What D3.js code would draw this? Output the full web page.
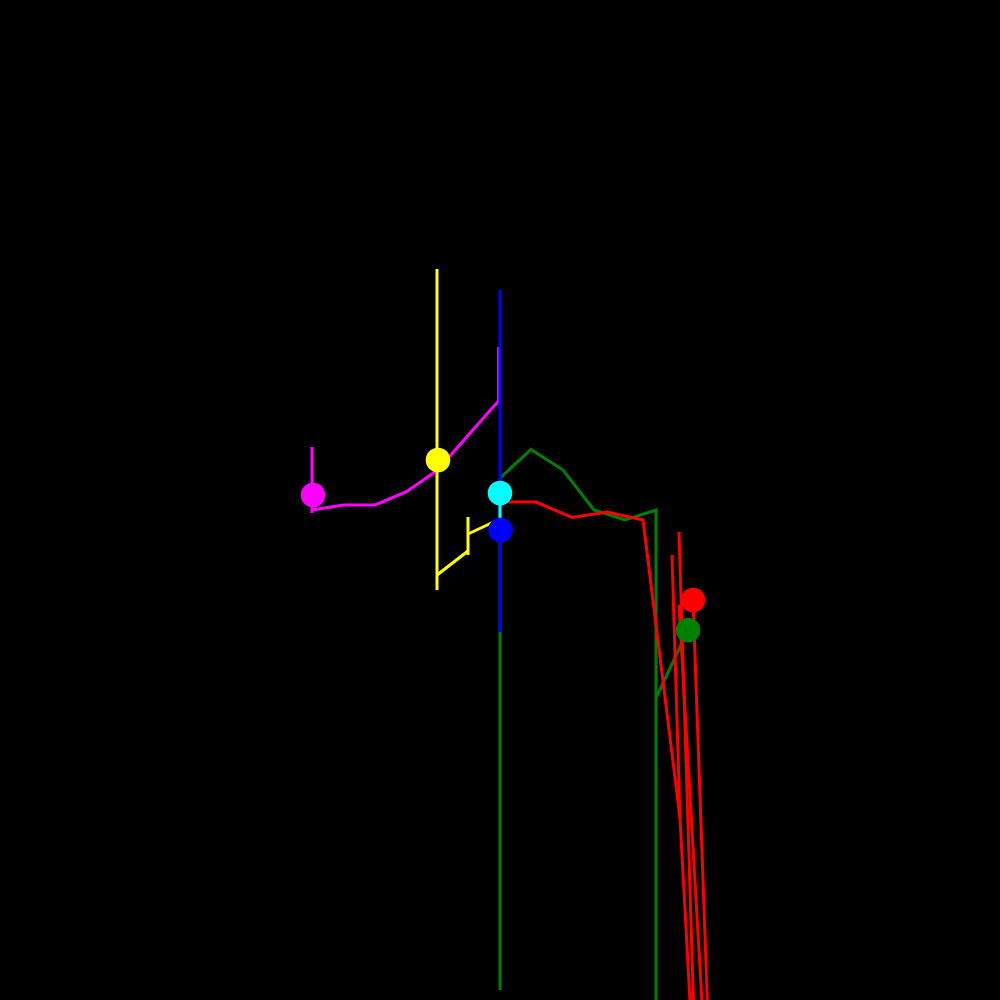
<!DOCTYPE html>
<html>
<head>
<meta charset="utf-8">
<script src="https://cdn.jsdelivr.net/npm/d3@7"></script>
<style>
  html, body { margin: 0; padding: 0; background: #000; }
  svg { display: block; }
</style>
</head>
<body>
<svg id="chart" width="1000" height="1000"></svg>
<script>
// ---- data (x, y in chart units) ----
const magentaPaths = [
  [[31.2, 55.3], [31.2, 48.7]],
  [[31.2, 49.0], [34.35, 49.5], [37.5, 49.5], [40.6, 50.8], [43.7, 52.95], [49.85, 59.9], [49.85, 65.3]]
];
const magentaDot = [31.3, 50.5];

const yellowPaths = [
  [[43.7, 73.1], [43.7, 41.0]],
  [[43.7, 42.5], [46.8, 44.9]],
  [[46.8, 48.3], [46.8, 44.5]],
  [[46.8, 46.6], [50.0, 48.1]]
];
const yellowDot = [43.8, 54.0];

const bluePaths = [
  [[50.0, 71.0], [50.0, 36.8]]
];
const blueDot = [50.05, 47.0];

const cyanPaths = [
  [[50.0, 50.7], [50.0, 47.0]]
];
const cyanDot = [50.0, 50.7];

const greenPaths = [
  [[50.0, 52.2], [53.1, 55.05], [56.3, 53.0], [59.4, 49.0], [62.5, 48.0], [65.6, 49.0], [65.6, -1.0]],
  [[50.0, 52.2], [50.0, 1.0]],
  [[65.6, 30.2], [68.8, 37.0]]
];
const greenDot = [68.8, 37.0];

const redPaths = [
  [[50.0, 49.8], [53.6, 49.8], [57.2, 48.25], [60.7, 48.8], [64.3, 48.0], [68.0, 18.2]],
  [[67.2, 44.5], [68.0, 18.2], [69.1, -2.0]],
  [[67.9, 46.8], [69.4, -2.0]],
  [[67.9, 39.5], [70.3, -2.0]],
  [[69.3, 40.0], [70.8, -2.0]]
];
const redDot = [69.3, 40.0];

// ---- build ----
const series = [
  { color: "#008000", paths: greenPaths,   dot: greenDot },
  { color: "#ff0000", paths: redPaths,     dot: redDot },
  { color: "#ff00ff", paths: magentaPaths, dot: magentaDot },
  { color: "#ffff00", paths: yellowPaths,  dot: yellowDot },
  { color: "#0000ff", paths: bluePaths,    dot: blueDot },
  { color: "#00ffff", paths: cyanPaths,    dot: cyanDot }
];
const dotOrder = ["#ff00ff", "#ffff00", "#00ffff", "#0000ff", "#ff0000", "#008000"];

const W = 1000, H = 1000;
const x = d3.scaleLinear().domain([0, 100]).range([0, W]);
const y = d3.scaleLinear().domain([0, 100]).range([H, 0]);

const svg = d3.select("#chart");
svg.append("rect").attr("width", W).attr("height", H).attr("fill", "#000");

const line = d3.line().x(d => x(d[0])).y(d => y(d[1]));

const lines = svg.append("g").attr("fill", "none").attr("stroke-width", 3);
series.forEach(s => {
  lines.selectAll(null)
    .data(s.paths)
    .join("path")
    .attr("d", line)
    .attr("stroke", s.color);
});

const dots = svg.append("g");
dotOrder.forEach(c => {
  const s = series.find(t => t.color === c);
  dots.append("circle")
    .attr("cx", x(s.dot[0]))
    .attr("cy", y(s.dot[1]))
    .attr("r", 12.3)
    .attr("fill", s.color);
});
</script>
</body>
</html>
